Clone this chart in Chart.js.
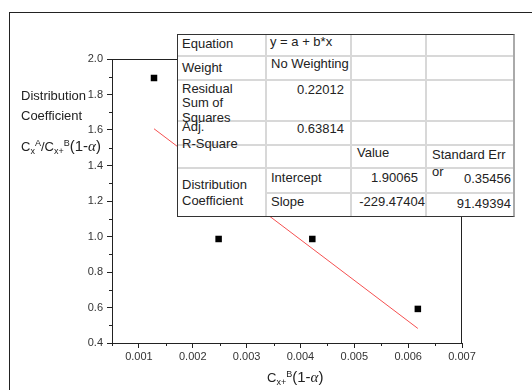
<!DOCTYPE html>
<html lang="en">
<head>
<meta charset="UTF-8">
<title>Distribution Coefficient</title>
<script src="https://cdn.jsdelivr.net/npm/chart.js"></script>
<style>
  body { margin:0; width:532px; height:390px; overflow:hidden; position:relative; background:#fff;
         font-family:"Liberation Sans", Arial, sans-serif; color:#222; }
  #frame { position:absolute; left:9px; top:12px; width:600px; height:500px; border:1px solid #222; }
  #chart { position:absolute; left:0; top:0; }
  .lbl { position:absolute; font-size:13px; white-space:nowrap; line-height:16px; }
  .lbl sub { font-size:9px; vertical-align:baseline; position:relative; top:3px; }
  .lbl sup { font-size:9px; vertical-align:baseline; position:relative; top:-5px; }
  .alpha { font-family:"Liberation Serif", serif; font-style:italic; font-size:15px; }
  .par { font-size:15px; }
  #fit { position:absolute; left:177px; top:34px; width:338px; height:183px; background:#fff; }
  #fitBorder { position:absolute; left:0; top:0; width:100%; height:100%; box-sizing:border-box;
               border-top:1.5px solid #333; border-left:1.5px solid #333; border-bottom:1.5px solid #333;
               border-right:2px solid #aaa; pointer-events:none; }
  .cell { position:absolute; box-sizing:border-box; font-size:13px; line-height:14.5px; display:flex;
          padding:0 5px; border-right:2px solid #d8d8d8; border-bottom:2px solid #d8d8d8; white-space:nowrap; }
</style>
</head>
<body>
<div id="frame"></div>
<canvas id="chart" width="532" height="390"></canvas>

<div class="lbl" style="left:21px; top:88px;">Distribution</div>
<div class="lbl" style="left:21px; top:108px;">Coefficient</div>
<div class="lbl" style="left:21px; top:138px;">C<sub>x</sub><sup>A</sup>/C<sub>x+</sub><sup>B</sup><span class="par">(1-<span class="alpha">α</span>)</span></div>
<div class="lbl" style="left:267px; top:369px;">C<sub>x+</sub><sup>B</sup><span class="par">(1-<span class="alpha">α</span>)</span></div>

<div id="fit"><div id="fitBorder"></div></div>

<script>
// measured points
var xValues = [0.00128, 0.00248, 0.00422, 0.00618]
var yValues = [1.893, 0.986, 0.986, 0.592]
// linear fit line ends
var fitX = [0.00128, 0.00618]
var fitY = [1.607, 0.482]

var xTickValues = [0.001, 0.002, 0.003, 0.004, 0.005, 0.006, 0.007]
var xMinorTicks = [0.0005, 0.0015, 0.0025, 0.0035, 0.0045, 0.0055, 0.0065]
var yTickValues = [0.4, 0.6, 0.8, 1.0, 1.2, 1.4, 1.6, 1.8, 2.0]
var yMinorTicks = [0.5, 0.7, 0.9, 1.1, 1.3, 1.5, 1.7, 1.9]

// fit report table
var fitEquation = 'y = a + b*x'
var fitWeight = 'No Weighting'
var residualSS = '0.22012'
var adjR2 = '0.63814'
var fitTerms = ['Intercept', 'Slope']
var fitValues = ['1.90065', '-229.47404']
var fitErrors = ['0.35456', '91.49394']

var cols = [0, 90, 175, 250, 338]
var rows = [0, 23, 47, 88, 112, 135, 160, 183]

// [col, row, colspan, rowspan, html, justify, align, extra style]
var cells = [
  [0, 0, 1, 1, 'Equation', 'flex-start', 'center', ''],
  [1, 0, 1, 1, fitEquation, 'flex-start', 'flex-start', 'padding-left:3px;padding-top:1px;'],
  [2, 0, 1, 1, '', '', '', ''],
  [3, 0, 1, 1, '', '', '', 'border-right:none;'],
  [0, 1, 1, 1, 'Weight', 'flex-start', 'center', ''],
  [1, 1, 1, 1, fitWeight, 'flex-start', 'flex-start', 'padding-left:4px;'],
  [2, 1, 1, 1, '', '', '', ''],
  [3, 1, 1, 1, '', '', '', 'border-right:none;'],
  [0, 2, 1, 1, 'Residual<br>Sum of<br>Squares', 'flex-start', 'center', 'padding-top:6px;'],
  [1, 2, 1, 1, residualSS, 'flex-end', 'flex-start', 'padding-top:2px;padding-right:6px;'],
  [2, 2, 1, 1, '', '', '', ''],
  [3, 2, 1, 1, '', '', '', 'border-right:none;'],
  [0, 3, 1, 1, 'Adj.<br>R-Square', 'flex-start', 'center', 'line-height:16.5px;padding-top:5px;'],
  [1, 3, 1, 1, adjR2, 'flex-end', 'flex-start', 'padding-right:6px;'],
  [2, 3, 1, 1, '', '', '', ''],
  [3, 3, 1, 1, '', '', '', 'border-right:none;'],
  [0, 4, 1, 1, '', '', '', ''],
  [1, 4, 1, 1, '', '', '', ''],
  [2, 4, 1, 1, 'Value', 'flex-start', 'flex-start', ''],
  [3, 4, 1, 1, 'Standard Err<br>or', 'flex-start', 'flex-start', 'line-height:17px;padding-top:0;border-right:none;'],
  [0, 5, 1, 2, 'Distribution<br>Coefficient', 'flex-start', 'center', 'line-height:16px;border-bottom:none;'],
  [1, 5, 1, 1, fitTerms[0], 'flex-start', 'flex-start', 'padding-left:4px;padding-top:2px;'],
  [2, 5, 1, 1, fitValues[0], 'flex-end', 'flex-start', 'padding-top:2px;padding-right:7px;'],
  [3, 5, 1, 1, fitErrors[0], 'flex-end', 'flex-start', 'padding-top:3px;padding-right:4px;border-right:none;'],
  [1, 6, 1, 1, fitTerms[1], 'flex-start', 'flex-start', 'padding-left:4px;padding-top:1px;border-bottom:none;'],
  [2, 6, 1, 1, fitValues[1], 'flex-end', 'flex-start', 'padding-top:1px;padding-right:0;border-bottom:none;'],
  [3, 6, 1, 1, fitErrors[1], 'flex-end', 'flex-start', 'padding-top:3px;padding-right:4px;border-right:none;border-bottom:none;']
]

var fit = document.getElementById('fit')
cells.forEach(function (c) {
  var d = document.createElement('div')
  d.className = 'cell'
  d.style.cssText = 'left:' + cols[c[0]] + 'px;top:' + rows[c[1]] + 'px;width:' + (cols[c[0] + c[2]] - cols[c[0]]) +
    'px;height:' + (rows[c[1] + c[3]] - rows[c[1]]) + 'px;justify-content:' + (c[5] || 'flex-start') +
    ';align-items:' + (c[6] || 'flex-start') + ';' + c[7]
  d.innerHTML = '<div>' + c[4] + '</div>'
  fit.insertBefore(d, document.getElementById('fitBorder'))
})

var minorTicks = {
  id: 'minorTicks',
  afterDraw: function (chart) {
    var ctx = chart.ctx, a = chart.chartArea
    var sx = chart.scales.x, sy = chart.scales.y
    ctx.save()
    ctx.strokeStyle = '#222'
    ctx.lineWidth = 1
    ctx.beginPath()
    xMinorTicks.forEach(function (v) {
      var px = Math.round(sx.getPixelForValue(v)) + 0.5
      ctx.moveTo(px, a.bottom); ctx.lineTo(px, a.bottom + 3)
    })
    yMinorTicks.forEach(function (v) {
      var py = Math.round(sy.getPixelForValue(v)) + 0.5
      ctx.moveTo(a.left - 3, py); ctx.lineTo(a.left, py)
    })
    // top and right frame of the plot
    var t = Math.round(a.top) + 0.5, r = Math.round(a.right) - 0.5
    ctx.moveTo(a.left, t); ctx.lineTo(r, t); ctx.lineTo(r, a.bottom)
    ctx.stroke()
    ctx.restore()
  }
}

var ctx = document.getElementById('chart').getContext('2d')
var myChart = new Chart(ctx, {
  type: 'scatter',
  data: {
    datasets: [{
      label: 'Fit',
      data: fitX.map(function (x, i) { return { x: x, y: fitY[i] } }),
      showLine: true,
      borderColor: 'rgb(245,80,80)',
      borderWidth: 1,
      pointRadius: 0
    }, {
      label: 'Data',
      data: xValues.map(function (x, i) { return { x: x, y: yValues[i] } }),
      pointStyle: 'rect',
      pointRadius: 4.6,
      backgroundColor: '#000',
      borderColor: '#000',
      borderWidth: 0
    }]
  },
  options: {
    responsive: false,
    devicePixelRatio: 1,
    animation: false,
    layout: { padding: { top: 59, right: 70, left: 0, bottom: 0 } },
    plugins: { legend: { display: false }, tooltip: { enabled: false } },
    scales: {
      x: {
        type: 'linear',
        min: 0.0005,
        max: 0.007,
        afterBuildTicks: function (s) { s.ticks = xTickValues.map(function (v) { return { value: v } }) },
        afterFit: function (s) { s.height = 47 },
        grid: { drawOnChartArea: false, drawTicks: true, tickLength: 5, color: '#222' },
        border: { display: true, color: '#222', width: 1 },
        ticks: {
          autoSkip: false, maxRotation: 0, padding: 2, color: '#333',
          font: { family: 'Liberation Sans', size: 11 },
          callback: function (v) { return v.toFixed(3) }
        }
      },
      y: {
        type: 'linear',
        min: 0.4,
        max: 2.0,
        afterBuildTicks: function (s) { s.ticks = yTickValues.map(function (v) { return { value: v } }) },
        afterFit: function (s) { s.width = 112 },
        grid: { drawOnChartArea: false, drawTicks: true, tickLength: 5, color: '#222' },
        border: { display: true, color: '#222', width: 1 },
        ticks: {
          autoSkip: false, padding: 4, color: '#333',
          font: { family: 'Liberation Sans', size: 11 },
          callback: function (v) { return v.toFixed(1) }
        }
      }
    }
  },
  plugins: [minorTicks]
})
</script>
</body>
</html>
